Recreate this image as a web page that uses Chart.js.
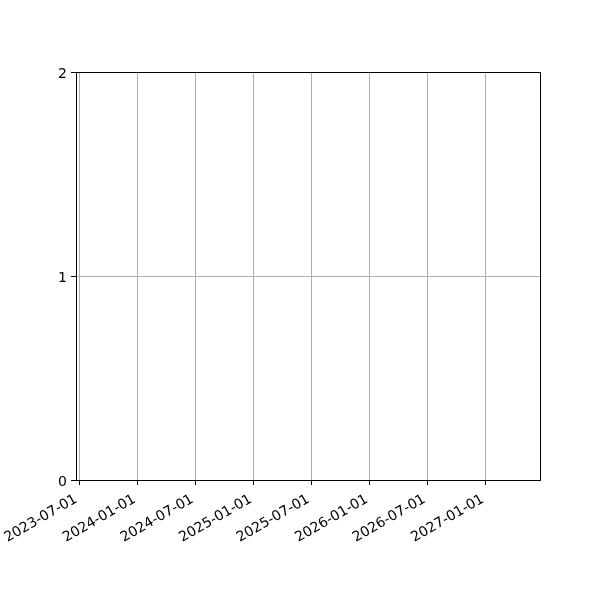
<!DOCTYPE html>
<html>
<head>
<meta charset="utf-8">
<script src="https://cdn.jsdelivr.net/npm/chart.js@4/dist/chart.umd.min.js"></script>
<style>
html,body{margin:0;padding:0;background:#fff;}
#wrap{width:600px;height:600px;}
</style>
</head>
<body>
<div id="wrap"><canvas id="c" width="600" height="600"></canvas></div>
<script>
// Data (the reference chart is empty: no plotted series)
const seriesDates = [];
const seriesValues = [];
const xTickLabels = ['2023-07-01','2024-01-01','2024-07-01','2025-01-01','2025-07-01','2026-01-01','2026-07-01','2027-01-01'];
const yTickValues = [0, 1, 2];
const xRangeDates = ['2023-06-21', '2027-06-20'];

const DAY = 86400000;
const origin = Date.UTC(2023, 6, 1);
function toDay(s) {
  const p = s.split('-').map(Number);
  return Math.round((Date.UTC(p[0], p[1] - 1, p[2]) - origin) / DAY);
}
function fromDay(d) {
  return new Date(origin + d * DAY).toISOString().slice(0, 10);
}
const xTickDays = xTickLabels.map(toDay);

const borderPlugin = {
  id: 'frame',
  afterDraw(chart) {
    const {ctx, chartArea: a} = chart;
    ctx.save();
    ctx.strokeStyle = '#000';
    ctx.lineWidth = 1;
    ctx.strokeRect(Math.round(a.left) + 0.5, Math.round(a.top) + 0.5, Math.round(a.right - a.left), Math.round(a.bottom - a.top));
    ctx.restore();
  }
};

new Chart(document.getElementById('c'), {
  type: 'scatter',
  data: {
    datasets: [{
      data: seriesDates.map((d, i) => ({x: toDay(d), y: seriesValues[i]})),
      borderColor: '#1f77b4',
      backgroundColor: '#1f77b4'
    }]
  },
  options: {
    responsive: false,
    animation: false,
    devicePixelRatio: 1,
    layout: {padding: {left: 0, top: 72, right: 60, bottom: 0}},
    plugins: {legend: {display: false}, tooltip: {enabled: false}},
    scales: {
      x: {
        type: 'linear',
        min: toDay(xRangeDates[0]),
        max: toDay(xRangeDates[1]),
        afterBuildTicks(scale) { scale.ticks = xTickDays.map(v => ({value: v})); },
        afterFit(scale) { scale.height = 120; },
        grid: {color: '#b0b0b0', lineWidth: 1, tickColor: '#000', tickLength: 5, drawTicks: true},
        border: {display: true, color: '#000', width: 1},
        ticks: {
          color: '#000',
          font: {family: 'DejaVu Sans', size: 14},
          maxRotation: 30, minRotation: 30,
          padding: 6,
          labelOffset: -3,
          autoSkip: false,
          callback: (v) => fromDay(v)
        }
      },
      y: {
        type: 'linear',
        min: 0, max: 2,
        afterBuildTicks(scale) { scale.ticks = yTickValues.map(v => ({value: v})); },
        afterFit(scale) { scale.width = 76; },
        grid: {color: '#b0b0b0', lineWidth: 1, tickColor: '#000', tickLength: 5},
        border: {display: true, color: '#000', width: 1},
        ticks: {
          color: '#000',
          font: {family: 'DejaVu Sans', size: 14},
          padding: 4,
          labelOffset: 2,
          callback: (v) => String(v)
        }
      }
    }
  },
  plugins: [borderPlugin]
});
</script>
</body>
</html>
